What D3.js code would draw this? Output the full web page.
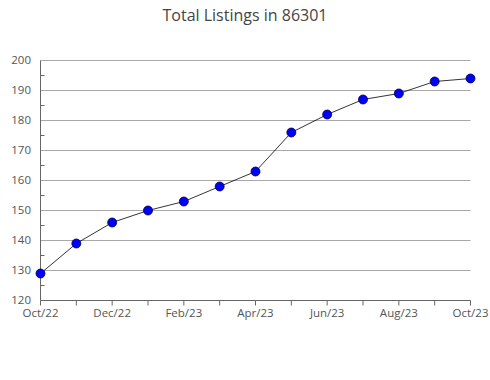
<!DOCTYPE html>
<meta charset="utf-8">
<title>Total Listings in 86301</title>
<style>
  body { margin: 0; background: #fff; }
  text { font-family: "Open Sans", sans-serif; fill: #555; }
  .grid line { stroke: #a8a8a8; stroke-width: 1px; }
</style>
<body>
<script src="https://cdn.jsdelivr.net/npm/d3@7"></script>
<script>

var months = ['Oct/22','Nov/22','Dec/22','Jan/23','Feb/23','Mar/23','Apr/23','May/23','Jun/23','Jul/23','Aug/23','Sep/23','Oct/23'];
var listings = [129, 139, 146, 150, 153, 158, 163, 176, 182, 187, 189, 193, 194];
var yTicks = [120, 130, 140, 150, 160, 170, 180, 190, 200];
var yMinor = [125, 135, 145, 155, 165, 175, 185, 195];

var W = 490, H = 380;
var plotL = 40.5, plotR = 470.5, plotT = 60.5, plotB = 300.5;

var svg = d3.select('body').append('svg').attr('width', W).attr('height', H);

svg.append('text')
  .attr('x', 245).attr('y', 21)
  .attr('text-anchor', 'middle')
  .style('font-size', '16px').style('fill', '#444')
  .text('Total Listings in 86301');

var x = d3.scalePoint().domain(months).range([plotL, plotR]);
var y = d3.scaleLinear().domain([120, 200]).range([plotB, plotT]);

// gridlines
svg.append('g').attr('class', 'grid')
  .selectAll('line').data(yTicks.slice(1))
  .enter().append('line')
  .attr('x1', plotL).attr('x2', plotR)
  .attr('y1', function(d) { return y(d); }).attr('y2', function(d) { return y(d); });

// y axis
var ya = svg.append('g');
ya.append('line').attr('x1', plotL).attr('x2', plotL).attr('y1', plotT).attr('y2', plotB)
  .attr('stroke', '#666');
ya.selectAll('line.minor').data(yMinor).enter().append('line').attr('class', 'minor')
  .attr('x1', plotL).attr('x2', plotL + 4)
  .attr('y1', function(d) { return y(d); }).attr('y2', function(d) { return y(d); })
  .attr('stroke', '#666');
ya.selectAll('text').data(yTicks).enter().append('text')
  .attr('x', 31).attr('y', function(d) { return y(d) + 3; })
  .attr('text-anchor', 'end')
  .style('font-size', '11.5px')
  .text(function(d) { return d; });

// x axis
var xa = svg.append('g');
xa.append('line').attr('x1', plotL).attr('x2', plotR).attr('y1', plotB).attr('y2', plotB)
  .attr('stroke', '#666');
xa.selectAll('line.tick').data(months).enter().append('line').attr('class', 'tick')
  .attr('x1', function(d) { return x(d); }).attr('x2', function(d) { return x(d); })
  .attr('y1', plotB).attr('y2', plotB + 5)
  .attr('stroke', '#666');
xa.selectAll('text').data(months.filter(function(d, i) { return i % 2 == 0; }))
  .enter().append('text')
  .attr('x', function(d) { return x(d); }).attr('y', 317)
  .attr('text-anchor', 'middle')
  .style('font-size', '11.5px')
  .text(function(d) { return d; });

var pts = months.map(function(m, i) { return [x(m), y(listings[i])]; });

svg.append('path')
  .attr('d', d3.line()(pts))
  .attr('fill', 'none').attr('stroke', '#000').attr('stroke-width', 0.8);

svg.selectAll('circle.dot').data(pts)
  .enter().append('circle').attr('class', 'dot')
  .attr('cx', function(d) { return d[0]; }).attr('cy', function(d) { return d[1]; })
  .attr('r', 4.5)
  .attr('fill', '#0000ff').attr('stroke', '#00003a').attr('stroke-width', 0.8);

</script>
</body>
